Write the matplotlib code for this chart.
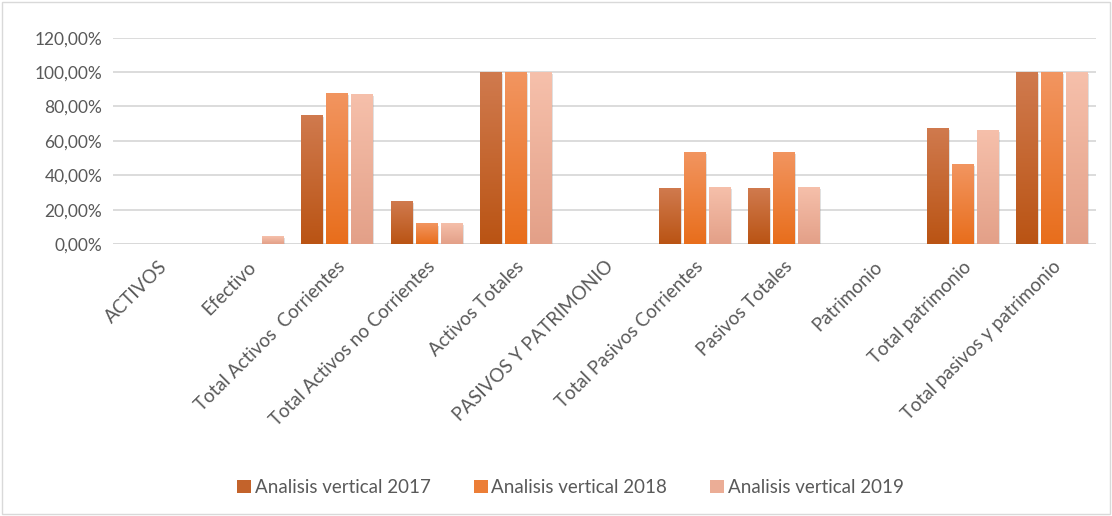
import numpy as np
import matplotlib.pyplot as plt
import matplotlib.patheffects as pe
import matplotlib.transforms as mtransforms
from matplotlib.colors import LinearSegmentedColormap
from matplotlib.patches import Patch

categories = ['ACTIVOS', 'Efectivo', 'Total Activos  Corrientes', 'Total Activos no Corrientes',
              'Activos Totales', 'PASIVOS Y PATRIMONIO', 'Total Pasivos Corrientes',
              'Pasivos Totales', 'Patrimonio', 'Total patrimonio', 'Total pasivos y patrimonio']
v2017 = [0, 0, 75.2, 24.8, 100, 0, 32.4, 32.4, 0, 67.6, 100]
v2018 = [0, 0, 88.0, 12.0, 100, 0, 53.5, 53.5, 0, 46.5, 100]
v2019 = [0, 4.6, 87.5, 12.5, 100, 0, 33.4, 33.4, 0, 66.6, 100]
series = ['Analisis vertical 2017', 'Analisis vertical 2018', 'Analisis vertical 2019']
yticks = [0, 20, 40, 60, 80, 100, 120]

# top / bottom colours of each gradient
grads = [('#D07A4E', '#BA5414'), ('#F29560', '#E86E1C'), ('#F6C0AB', '#E3A088')]

plt.rcParams['font.family'] = ['Lato', 'DejaVu Sans']
fig = plt.figure(figsize=(11.12, 5.16), dpi=100)
ax = fig.add_axes([0.102, 0.527, 0.884, 0.40])

x = np.arange(len(categories))
w = 0.235
step = 0.28
handles = []
for i, (vals, (ctop, cbot), name) in enumerate(zip([v2017, v2018, v2019], grads, series)):
    cmap = LinearSegmentedColormap.from_list('g%d' % i, [cbot, ctop])
    bars = ax.bar(x + (i - 1) * step, vals, w, color=cbot, zorder=3,
                  path_effects=[pe.SimplePatchShadow(offset=(1.5, -1.5), shadow_rgbFace='#999999', alpha=0.3),
                                pe.Normal()])
    for b, v in zip(bars, vals):
        if v <= 0:
            continue
        bx = b.get_x()
        grad = np.linspace(0, 1, 100).reshape(-1, 1)
        im = ax.imshow(grad, cmap=cmap, origin='lower', aspect='auto',
                       extent=[bx, bx + b.get_width(), 0, v], zorder=4)
        im.set_clip_path(b)
    handles.append(Patch(facecolor=cmap(0.4), edgecolor='none', label=name))

ax.set_xlim(-0.5, len(categories) - 0.5)
ax.set_ylim(0, 120)
ax.set_yticks(yticks)
ax.set_yticklabels(['%d,00%%' % t for t in yticks], color='#595959', fontsize=12.5)
ax.set_xticks(x)
ax.set_xticklabels(categories, rotation=45, ha='right', rotation_mode='anchor',
                   color='#595959', fontsize=13.5)
shift = mtransforms.ScaledTranslation(-6 / 100, 0, fig.dpi_scale_trans)
for lbl in ax.get_xticklabels():
    lbl.set_transform(lbl.get_transform() + shift)
ax.tick_params(length=0, pad=8)
ax.tick_params(axis='x', pad=10)
ax.grid(axis='y', color='#D9D9D9', linewidth=1.3, zorder=0)
for s in ax.spines.values():
    s.set_visible(False)
ax.axhline(0, color='#D9D9D9', linewidth=1.3, zorder=2)

ax.legend(handles=handles, loc='center', bbox_to_anchor=(0.513, 0.055), bbox_transform=fig.transFigure,
          ncol=3, frameon=False, fontsize=13.5, handlelength=0.75, handleheight=0.75,
          handletextpad=0.2, columnspacing=2.3, labelcolor='#595959')

fig.patches.append(plt.Rectangle((0.002, 0.004), 0.996, 0.992, transform=fig.transFigure,
                                 fill=False, edgecolor='#D9D9D9', linewidth=1))
fig.savefig('out.png', dpi=100)
